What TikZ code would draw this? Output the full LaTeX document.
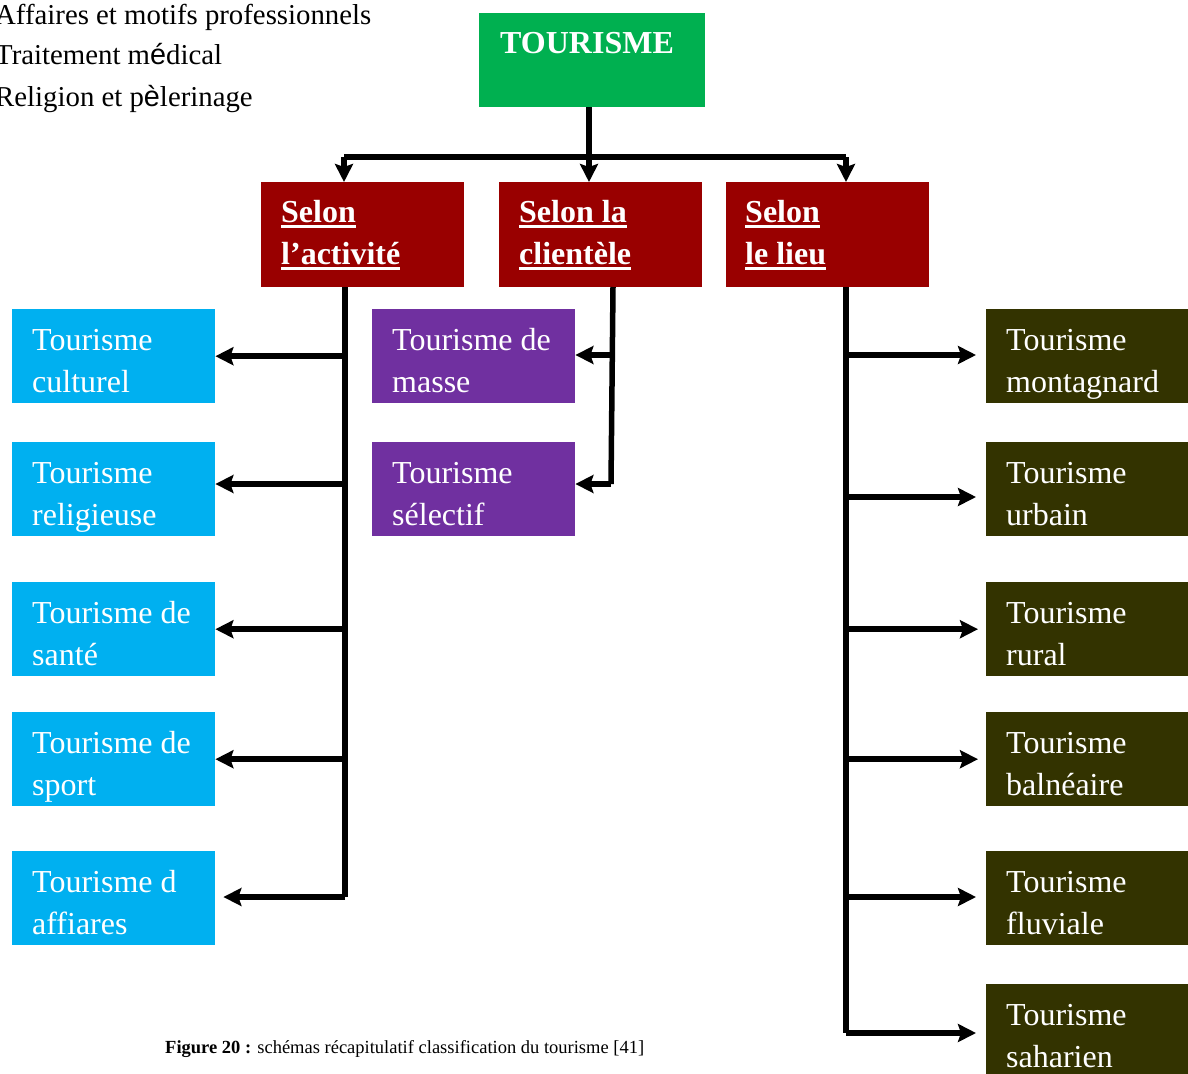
\documentclass[tikz,border=0pt]{standalone}
\usepackage{fontspec}
\setmainfont{Liberation Serif}
\newfontfamily\accf{Liberation Sans}
\usetikzlibrary{arrows.meta}
\definecolor{cgreen}{HTML}{00B050}
\definecolor{cred}{HTML}{990000}
\definecolor{cblue}{HTML}{00B0F0}
\definecolor{cpurple}{HTML}{7030A0}
\definecolor{colive}{HTML}{333300}
\newcommand\ulw[1]{\setbox0\hbox{#1}\rlap{\rule[-6pt]{\wd0}{2.6pt}}\box0}
% name, fill, x, y, text style, baseline offset 1, line1, line2
\newcommand\tb[8]{%
  \node[box,fill=#2] (#1) at (#3,#4) {};
  \node[#5] (#1-a) at ([shift={(20pt,-#6pt)}]#1.north west) {#7};
  \node[#5] (#1-b) at ([shift={(20pt,-#6pt-42pt)}]#1.north west) {#8};}
\begin{document}
\begin{tikzpicture}[x=1pt,y=-1pt,
  box/.style={draw=none,inner sep=0,minimum width=203pt,minimum height=94pt,anchor=north west},
  txt/.style={anchor=base west,inner sep=0,text=white,font=\fontsize{32}{38}\selectfont},
  btxt/.style={txt,font=\fontsize{32}{38}\selectfont\bfseries},
  note/.style={anchor=base west,inner sep=0,font=\fontsize{28.8}{34}\selectfont},
  conn/.style={line width=5.5pt,line join=miter},
  arr/.style={conn,-{Stealth[length=18pt 0,width=18pt 0,inset=3pt 0]}},
]
\useasboundingbox (0,0) rectangle (1188,1073);

% top-left notes
\node[note] (n1) at (-5,25) {Affaires et motifs professionnels};
\node[note] (n2) at (-5,65) {Traitement m{\accf é}dical};
\node[note] (n3) at (-5,106) {Religion et p{\accf è}lerinage};

% root
\node[box,fill=cgreen,minimum width=226pt] (T) at (479,13) {};
\node[btxt] (T-a) at ([shift={(21pt,-40pt)}]T.north west) {TOURISME};

% level 1
\node[box,fill=cred,minimum height=105pt] (A) at (261,182) {};
\node[btxt] (A-a) at ([shift={(20pt,-40pt)}]A.north west) {\ulw{Selon}};
\node[btxt] (A-b) at ([shift={(20pt,-82pt)}]A.north west) {\ulw{l’activité}};
\node[box,fill=cred,minimum height=105pt] (C) at (499,182) {};
\node[btxt] (C-a) at ([shift={(20pt,-40pt)}]C.north west) {\ulw{Selon la}};
\node[btxt] (C-b) at ([shift={(20pt,-82pt)}]C.north west) {\ulw{clientèle}};
\node[box,fill=cred,minimum height=105pt] (L) at (726,182) {};
\node[btxt] (L-a) at ([shift={(19pt,-40pt)}]L.north west) {\ulw{Selon}};
\node[btxt] (L-b) at ([shift={(19pt,-82pt)}]L.north west) {\ulw{le lieu}};

% activity boxes
\tb{B1}{cblue}{12}{309}{txt}{41}{Tourisme}{culturel}
\tb{B2}{cblue}{12}{442}{txt}{41}{Tourisme}{religieuse}
\tb{B3}{cblue}{12}{582}{txt}{41}{Tourisme de}{santé}
\tb{B4}{cblue}{12}{712}{txt}{41}{Tourisme de}{sport}
\tb{B5}{cblue}{12}{851}{txt}{41}{Tourisme d}{affiares}

% clientele boxes
\tb{P1}{cpurple}{372}{309}{txt}{41}{Tourisme de}{masse}
\tb{P2}{cpurple}{372}{442}{txt}{41}{Tourisme}{sélectif}

% place boxes
\tb{R1}{colive}{986}{309}{txt}{41}{Tourisme}{montagnard}
\tb{R2}{colive}{986}{442}{txt}{41}{Tourisme}{urbain}
\tb{R3}{colive}{986}{582}{txt}{41}{Tourisme}{rural}
\tb{R4}{colive}{986}{712}{txt}{41}{Tourisme}{balnéaire}
\tb{R5}{colive}{986}{851}{txt}{41}{Tourisme}{fluviale}
\tb{R6}{colive}{986}{984}{txt}{41}{Tourisme}{saharien}

% caption
\node[anchor=base west,inner sep=0,font=\fontsize{18.5}{22}\selectfont] (cap) at (165,1053)
  {\textbf{Figure 20 :} schémas récapitulatif classification du tourisme [41]};

% root connectors
\coordinate (jA) at (344,157);
\coordinate (jC) at (589,157);
\coordinate (jL) at (846,157);
\draw[conn] (jC |- T.south) -- (jC);
\draw[conn] (jA) -- (jL);
\draw[arr] (jA) -- (jA |- A.north);
\draw[arr] (jC) -- (jC |- C.north);
\draw[arr] (jL) -- (jL |- L.north);

% activity connectors
\coordinate (sA) at (345,287);
\coordinate (eA) at (345,897);
\draw[conn] (sA) -- (eA);
\draw[arr] (sA |- B1.east) -- (B1.east);
\draw[arr] (345,484) -- (B2.east |- 0,484);
\draw[arr] (sA |- B3.east) -- (B3.east);
\draw[arr] (sA |- B4.east) -- (B4.east);
\draw[arr] (eA) -- ([xshift=8pt]B5.east |- eA);

% clientele connectors
\coordinate (sC) at (613,287);
\coordinate (eC) at (611,484);
\draw[conn] (sC) -- (eC);
\draw[arr] (612,355) -- (P1.east |- 0,355);
\draw[arr] (eC) -- (P2.east |- eC);

% place connectors
\coordinate (sL) at (846,287);
\coordinate (eL) at (846,1033);
\draw[conn] (sL) -- (eL);
\draw[arr] (846,355) -- ([xshift=-10pt]R1.west |- 0,355);
\draw[arr] (846,497) -- ([xshift=-10pt]R2.west |- 0,497);
\draw[arr] (sL |- R3.west) -- ([xshift=-8pt]R3.west);
\draw[arr] (sL |- R4.west) -- ([xshift=-8pt]R4.west);
\draw[arr] (846,897) -- ([xshift=-10pt]R5.west |- 0,897);
\draw[arr] (eL) -- ([xshift=-10pt]R6.west |- eL);
\end{tikzpicture}
\end{document}
